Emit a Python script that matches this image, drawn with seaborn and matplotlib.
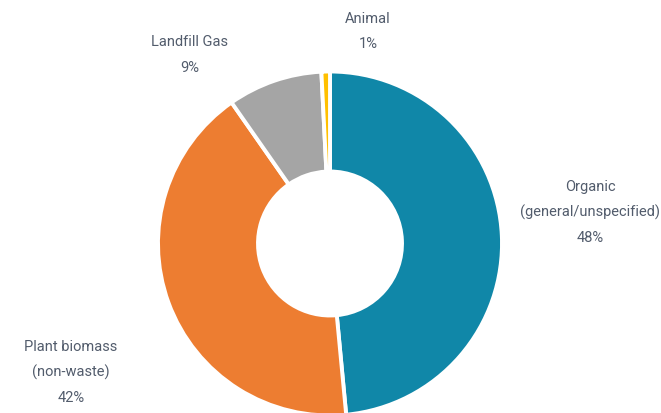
import matplotlib
matplotlib.use("Agg")
import matplotlib.pyplot as plt
import seaborn as sns

# Data
sources = ["Organic\n(general/unspecified)", "Plant biomass\n(non-waste)", "Landfill Gas", "Animal"]
shares = [48.5, 41.8, 8.9, 0.8]
colors = ["#1087a8", "#ed7d31", "#a5a5a5", "#ffc000"]

sns.set_style("white")
plt.rcParams["font.family"] = ["Roboto", "DejaVu Sans"]
text_color = "#525c6c"

fig = plt.figure(figsize=(6.61, 4.14), dpi=100)
W, H = 661, 414
cx, cy, r = 330, 244.5, 172
ax = fig.add_axes([(cx - r) / W, (H - cy - r) / H, 2 * r / W, 2 * r / H])

ax.pie(shares, colors=colors, startangle=90, counterclock=False,
       wedgeprops=dict(width=100 / 172, edgecolor="white", linewidth=2.8))
ax.set_xlim(-1, 1)
ax.set_ylim(-1, 1)
ax.set_aspect("equal")
ax.axis("off")

# label positions in pixels (center of first line)
label_pos = [(590, 187), (71, 347), (190, 42), (368, 19)]
for name, val, (px, py) in zip(sources, shares, label_pos):
    lines = name.split("\n") + [f"{round(val):.0f}%"]
    for i, line in enumerate(lines):
        fig.text(px / W, 1 - (py + i * 25.5) / H, line, ha="center", va="center",
                 fontsize=10.5, color=text_color)

fig.savefig("out.png", dpi=100)
